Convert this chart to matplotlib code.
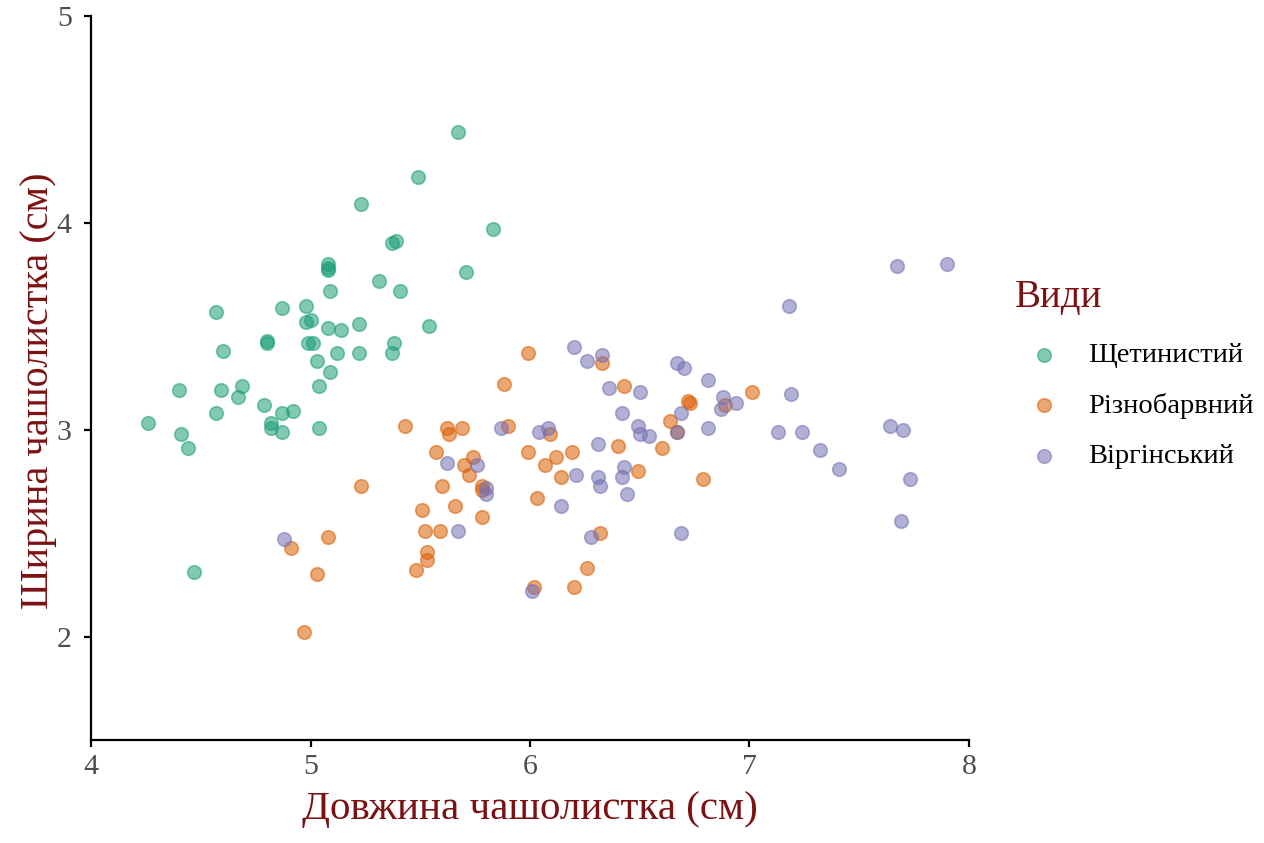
import numpy as np
import matplotlib
matplotlib.use("Agg")
import matplotlib.pyplot as plt

# sepal length / width per species (jittered iris)
species = ['Щетинистий', 'Різнобарвний', 'Віргінський']
colors = ['#1B9E77', '#D95F02', '#7570B3']

setosa_x = [4.26, 4.40, 4.41, 4.44, 4.47, 4.57, 4.57, 4.59, 4.60, 4.67,
            4.69, 4.79, 4.80, 4.80, 4.82, 4.82, 4.87, 4.87, 4.87, 4.92,
            4.98, 4.98, 4.99, 5.00, 5.01, 5.03, 5.04, 5.04, 5.08, 5.08,
            5.08, 5.08, 5.09, 5.09, 5.12, 5.14, 5.22, 5.23, 5.22, 5.31,
            5.37, 5.39, 5.37, 5.38, 5.41, 5.49, 5.54, 5.67, 5.71, 5.83]
setosa_y = [3.03, 3.19, 2.98, 2.91, 2.31, 3.57, 3.08, 3.19, 3.38, 3.16,
            3.21, 3.12, 3.43, 3.42, 3.03, 3.01, 2.99, 3.59, 3.08, 3.09,
            3.60, 3.52, 3.42, 3.53, 3.42, 3.33, 3.21, 3.01, 3.80, 3.78,
            3.77, 3.49, 3.67, 3.28, 3.37, 3.48, 3.37, 4.09, 3.51, 3.72,
            3.90, 3.91, 3.37, 3.42, 3.67, 4.22, 3.50, 4.44, 3.76, 3.97]

versi_x = [4.91, 4.97, 5.03, 5.08, 5.23, 5.43, 5.48, 5.51, 5.52, 5.53,
           5.53, 5.57, 5.59, 5.60, 5.62, 5.63, 5.66, 5.69, 5.70, 5.72,
           5.74, 5.78, 5.78, 5.78, 5.88, 5.90, 5.99, 5.99, 6.02, 6.03,
           6.07, 6.09, 6.12, 6.14, 6.19, 6.20, 6.26, 6.32, 6.33, 6.40,
           6.43, 6.49, 6.60, 6.64, 6.72, 6.73, 6.79, 6.89, 7.01, 6.67]
versi_y = [2.43, 2.02, 2.30, 2.48, 2.73, 3.02, 2.32, 2.61, 2.51, 2.41,
           2.37, 2.89, 2.51, 2.73, 3.01, 2.98, 2.63, 3.01, 2.83, 2.78,
           2.87, 2.58, 2.73, 2.71, 3.22, 3.02, 2.89, 3.37, 2.24, 2.67,
           2.83, 2.98, 2.87, 2.77, 2.89, 2.24, 2.33, 2.50, 3.32, 2.92,
           3.21, 2.80, 2.91, 3.04, 3.14, 3.13, 2.76, 3.12, 3.18, 2.99]

virg_x = [4.88, 5.62, 5.76, 5.80, 5.80, 5.67, 5.87, 6.01, 6.04, 6.08,
          6.14, 6.20, 6.21, 6.26, 6.28, 6.31, 6.31, 6.32, 6.33, 6.36,
          6.42, 6.42, 6.43, 6.44, 6.49, 6.50, 6.50, 6.54, 6.67, 6.70,
          6.67, 6.69, 6.69, 6.81, 6.81, 6.87, 6.88, 6.94, 7.13, 7.18,
          7.19, 7.24, 7.32, 7.41, 7.64, 7.67, 7.70, 7.73, 7.69, 7.90]
virg_y = [2.47, 2.84, 2.83, 2.72, 2.69, 2.51, 3.01, 2.22, 2.99, 3.01,
          2.63, 3.40, 2.78, 3.33, 2.48, 2.93, 2.77, 2.73, 3.36, 3.20,
          2.77, 3.08, 2.82, 2.69, 3.02, 3.18, 2.98, 2.97, 3.32, 3.30,
          2.99, 3.08, 2.50, 3.24, 3.01, 3.10, 3.16, 3.13, 2.99, 3.60,
          3.17, 2.99, 2.90, 2.81, 3.02, 3.79, 3.00, 2.76, 2.56, 3.80]

xs = [setosa_x, versi_x, virg_x]
ys = [setosa_y, versi_y, virg_y]

plt.rcParams['font.family'] = ['Liberation Serif', 'DejaVu Serif']
title_col = '#7B1113'

fig = plt.figure(figsize=(12.64, 8.43), dpi=100)
ax = fig.add_axes([0.072, 0.1222, 0.6946, 0.859])

for name, c, x, y in zip(species, colors, xs, ys):
    ax.scatter(x, y, s=95, color=c, alpha=0.55, edgecolors=c, linewidths=1.2, label=name)

ax.set_xlim(4, 8)
ax.set_ylim(1.5, 5)
ax.set_xticks([4, 5, 6, 7, 8])
ax.set_yticks([2, 3, 4, 5])
for s in ['top', 'right']:
    ax.spines[s].set_visible(False)
for s in ['left', 'bottom']:
    ax.spines[s].set_linewidth(1.6)
    ax.spines[s].set_color('black')
ax.tick_params(length=5, width=1.6, labelsize=21.5, labelcolor='#4d4d4d')
ax.tick_params(axis='x', pad=5)
ax.tick_params(axis='y', pad=9)

ax.set_xlabel('Довжина чашолистка (см)', fontsize=29.5, color=title_col, labelpad=8)
ax.set_ylabel('Ширина чашолистка (см)', fontsize=29, color=title_col, labelpad=0)
ax.yaxis.label.set_y(0.482)

leg = fig.legend(loc='upper left', bbox_to_anchor=(0.783, 0.699), frameon=False,
                 title='Види', fontsize=20.5, title_fontsize=28,
                 handletextpad=0.55, labelspacing=0.87, markerscale=1.0)
leg.get_title().set_color(title_col)
leg._legend_box.align = 'left'
leg._legend_box.sep = 18.5

fig.savefig('out.png', dpi=100)
